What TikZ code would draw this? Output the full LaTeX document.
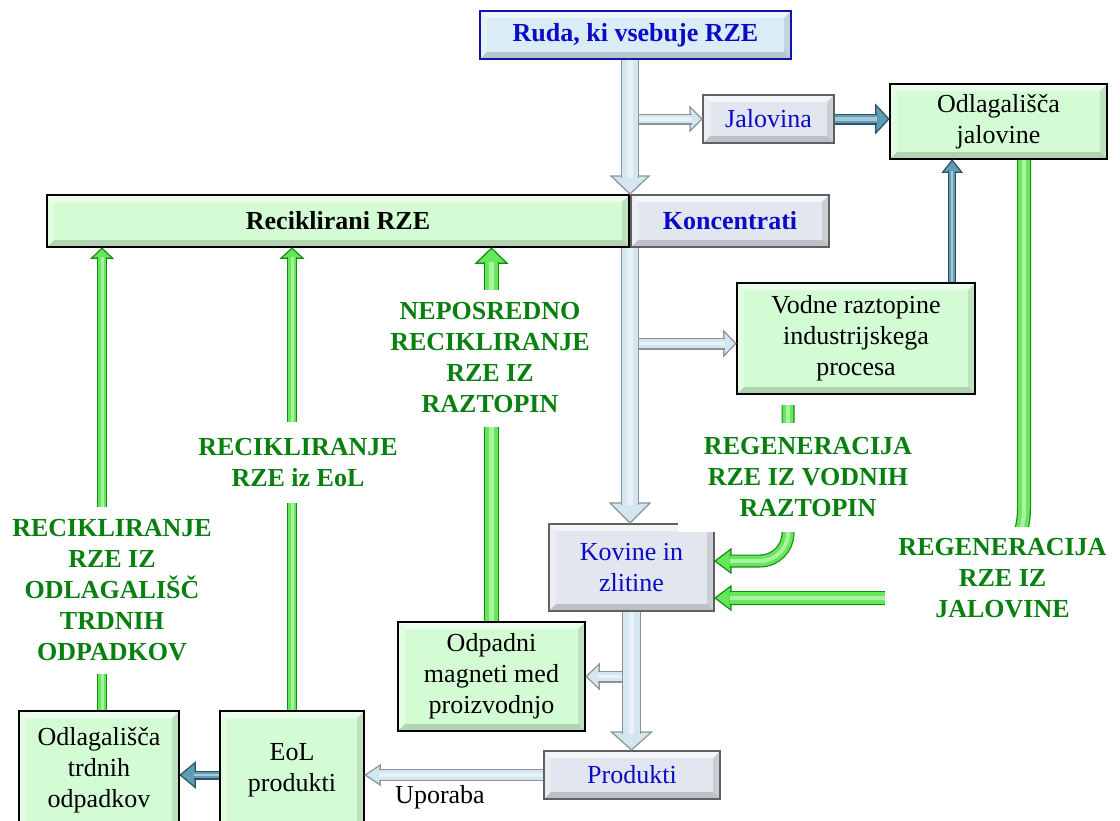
\documentclass[tikz,border=0pt]{standalone}
\usepackage{fontspec}
\setmainfont{Liberation Serif}
\usetikzlibrary{calc}

\definecolor{tblue}{RGB}{10,10,200}
\definecolor{tgreen}{RGB}{8,128,16}
\definecolor{gfill}{RGB}{212,252,212}
\definecolor{bfill}{RGB}{226,230,238}
\definecolor{bedge}{RGB}{96,96,96}
\definecolor{rfill}{RGB}{218,236,246}
\definecolor{redge}{RGB}{20,20,170}
\definecolor{afill}{RGB}{212,230,240}
\definecolor{aedge}{RGB}{140,146,150}
\definecolor{tfill}{RGB}{96,156,180}
\definecolor{tedge}{RGB}{40,84,100}
\definecolor{grfill}{RGB}{100,232,90}
\definecolor{gredge}{RGB}{20,140,20}

\newcommand\boxfont{\fontsize{26}{31}\selectfont}

% arrow head: outline, fill, half width, length, angle, tip
\newcommand\ahead[6]{%
  \filldraw[draw=#1, fill=#2, line width=1.2pt, shift={(#6)}, rotate=#5]
    (0pt,0pt) -- (-#4pt,#3pt) -- (-#4pt,-#3pt) -- cycle;}
% bevelled shaft: outline, fill, width, shorten, path, extra options
\newcommand\shaft[6]{%
  \draw[draw=#1, line width=#3pt, shorten >=#4, #6] #5;
  \draw[draw=#2, line width={#3pt-2.4pt}, shorten >=#4, #6] #5;
  \draw[draw=white, opacity=.45, line width={0.3*#3pt}, shorten >=#4, #6] #5;}
% straight block arrow: outline, fill, width, half head, head length, angle, from, to
\newcommand\fatarrow[8]{%
  \ahead{#1}{#2}{#4}{#5}{#6}{#8}
  \shaft{#1}{#2}{#3}{{(#5-1.5)*1pt}}{(#7) -- (#8)}{}}

\tikzset{
  bevel/.style={path picture={
    \fill[white,opacity=.6] (path picture bounding box.north west) -- (path picture bounding box.north east)
      -- ([shift={(-7pt,-7pt)}]path picture bounding box.north east) -- ([shift={(7pt,-7pt)}]path picture bounding box.north west) -- cycle;
    \fill[white,opacity=.35] (path picture bounding box.north west) -- (path picture bounding box.south west)
      -- ([shift={(7pt,7pt)}]path picture bounding box.south west) -- ([shift={(7pt,-7pt)}]path picture bounding box.north west) -- cycle;
    \fill[black,opacity=.16] (path picture bounding box.south west) -- (path picture bounding box.south east)
      -- ([shift={(-7pt,7pt)}]path picture bounding box.south east) -- ([shift={(7pt,7pt)}]path picture bounding box.south west) -- cycle;
    \fill[black,opacity=.10] (path picture bounding box.north east) -- (path picture bounding box.south east)
      -- ([shift={(-7pt,7pt)}]path picture bounding box.south east) -- ([shift={(-7pt,-7pt)}]path picture bounding box.north east) -- cycle;
  }},
  base/.style={rectangle, inner sep=0pt, align=center, font=\boxfont, bevel},
  gbox/.style={base, fill=gfill, draw=black, line width=2.4pt},
  bbox/.style={base, fill=bfill, draw=bedge, line width=2pt, text=tblue},
  rbox/.style={base, fill=rfill, draw=redge, line width=2.4pt, text=tblue, font=\boxfont\bfseries},
  lab/.style={fill=white, align=center, font=\boxfont\bfseries, text=tgreen, inner sep=0pt},
}

\begin{document}
\begin{tikzpicture}[x=1pt,y=-1pt]
\fill[white] (0,0) rectangle (1120,820);
\useasboundingbox (0,0) rectangle (1120,820);

% boxes
\node[rbox, minimum width=311, minimum height=48] (ruda) at (635.5,35) {Ruda, ki vsebuje RZE};
\node[bbox, minimum width=131, minimum height=48] (jal) at (768.5,119) {Jalovina};
\node[gbox, minimum width=217, minimum height=75] (odjal) at (998.5,121.5) {Odlagališča\\jalovine};
\node[gbox, minimum width=582, minimum height=52, font=\boxfont\bfseries] (rec) at (338,221) {Reciklirani RZE};
\node[bbox, minimum width=198, minimum height=52, font=\boxfont\bfseries] (konc) at (730,221) {Koncentrati};
\node[gbox, minimum width=238, minimum height=111] (vod) at (856,338.5) {Vodne raztopine\\industrijskega\\procesa};
\node[bbox, minimum width=165, minimum height=87] (kov) at (631.5,567.5) {Kovine in\\zlitine};
\node[gbox, minimum width=187, minimum height=109] (odm) at (491.5,676.5) {Odpadni\\magneti med\\proizvodnjo};
\node[bbox, minimum width=176, minimum height=48] (prod) at (632,775) {Produkti};
\node[gbox, minimum width=144, minimum height=118] (eol) at (292,770) {EoL\\produkti};
\node[gbox, minimum width=160, minimum height=118] (odt) at (99,770) {Odlagališča\\trdnih\\odpadkov};
\node[font=\boxfont] (upo) at (440,797) {Uporaba};

% main flow of the ore (grey block arrows)
\fatarrow{aedge}{afill}{11}{12}{12}{0}{konc.north west |- jal.west}{jal.west}
\fatarrow{aedge}{afill}{18}{19}{18}{-90}{konc.north west |- ruda.south}{konc.north west}
\coordinate (vb) at ([yshift=-5pt]vod.west);
\fatarrow{aedge}{afill}{12}{12.5}{12}{0}{konc.south west |- vb}{vb}
\fatarrow{aedge}{afill}{18}{20}{20}{-90}{konc.south west}{konc.south west |- kov.north}
\fatarrow{aedge}{afill}{12}{12.5}{13}{180}{kov.south |- odm.east}{odm.east}
\fatarrow{aedge}{afill}{19}{20}{18}{-90}{kov.south}{kov.south |- prod.north}
\fatarrow{aedge}{afill}{12}{10}{15}{180}{prod.west}{eol.east |- prod.west}

% disposal (teal block arrows)
\fatarrow{tedge}{tfill}{11}{14}{13}{0}{jal.east}{odjal.west |- jal.east}
\coordinate (vt) at ([xshift=-24pt]vod.north east);
\fatarrow{tedge}{tfill}{8}{9.5}{12}{90}{vt}{vt |- odjal.south}
\coordinate (et) at ([yshift=-5pt]eol.west);
\fatarrow{tedge}{tfill}{9}{12.5}{15}{180}{et}{odt.east |- et}

% recycling routes (green block arrows)
\coordinate (ot) at ([xshift=3pt]odt.north);
\fatarrow{gredge}{grfill}{10}{10.5}{10}{90}{ot}{ot |- rec.south}
\fatarrow{gredge}{grfill}{10}{11}{10}{90}{eol.north}{eol.north |- rec.south}
\fatarrow{gredge}{grfill}{15}{15.5}{15}{90}{odm.north}{odm.north |- rec.south}

\coordinate (gj) at ([xshift=25.5pt]odjal.south);
\coordinate (kj) at ([yshift=-30.5pt]kov.east);
\ahead{gredge}{grfill}{12}{16}{180}{kj}
\shaft{gredge}{grfill}{14}{14.5pt}{(gj) -- (gj |- kj) -- (kj)}{rounded corners=90pt}

\coordinate (vg) at ([xshift=-68pt,yshift=-10pt]vod.south);
\coordinate (kv) at ([yshift=6.5pt]kov.east);
\ahead{gredge}{grfill}{12}{16}{180}{kv}
\shaft{gredge}{grfill}{13}{14.5pt}{(vg) -- (vg |- kv) -- (kv)}{rounded corners=28pt}

% route labels
\node[lab, minimum width=200, minimum height=137] (l1) at (490,358) {NEPOSREDNO\\RECIKLIRANJE\\RZE IZ\\RAZTOPIN};
\node[lab, minimum height=81] (l2) at (298,462.5) {RECIKLIRANJE\\RZE iz EoL};
\node[lab, minimum height=167] (l3) at (112,590) {RECIKLIRANJE\\RZE IZ\\ODLAGALIŠČ\\TRDNIH\\ODPADKOV};
\node[lab, minimum width=260, minimum height=109] (l4) at (808,477.5) {REGENERACIJA\\RZE IZ VODNIH\\RAZTOPIN};
\node[lab, minimum width=235, minimum height=103] (l5) at (1002.5,578.5) {REGENERACIJA\\RZE IZ\\JALOVINE};
\end{tikzpicture}
\end{document}
